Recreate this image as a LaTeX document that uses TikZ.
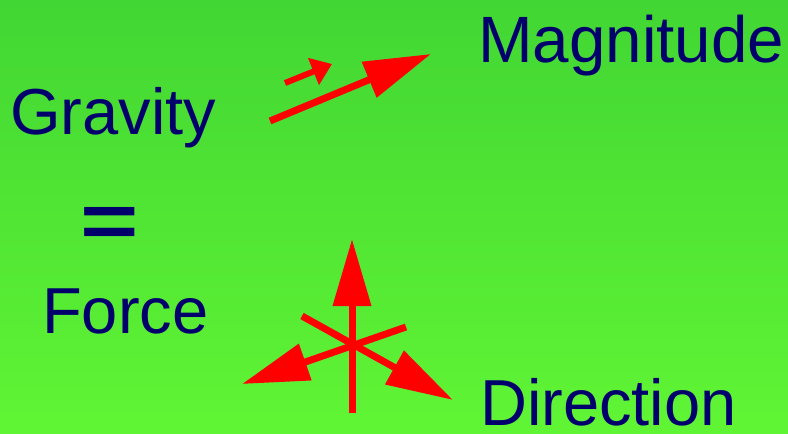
\documentclass[tikz,border=0pt]{standalone}
\usepackage{fontspec}
\setmainfont{Liberation Sans}
\usetikzlibrary{arrows.meta}
\definecolor{bgtop}{RGB}{66,214,52}
\definecolor{bgbot}{RGB}{96,245,52}
\definecolor{txt}{RGB}{0,0,108}
\definecolor{arr}{RGB}{255,0,0}
\begin{document}
\begin{tikzpicture}[x=1pt,y=-1pt,
  lbl/.style={anchor=base west,inner sep=0pt,text=txt},
  bigarrow/.style={draw=arr,line width=7pt,-{Triangle[length=67pt,width=37pt]},color=arr},
  smallarrow/.style={draw=arr,line width=6pt,-{Triangle[length=20pt,width=28pt]},color=arr}]
\useasboundingbox (0,0) rectangle (788,434);
\shade[top color=bgtop,bottom color=bgbot] (0,0) rectangle (788,434);
% labels
\node[lbl,font=\fontsize{65.5}{70}\selectfont] (mag) at (478,62) {Magnitude};
\node[lbl,font=\fontsize{65}{70}\selectfont] (grav) at (10,134) {Gravity};
\node[lbl,font=\fontsize{65}{70}\selectfont] (force) at (42,333) {Force};
\node[lbl,font=\fontsize{65}{70}\selectfont] (dir) at (480,425) {Direction};
\node[anchor=base,inner sep=0pt,text=txt,font=\bfseries\fontsize{100}{100}\selectfont] (eq) at (110,247) {\scalebox{1}[0.77]{=}};
% magnitude arrows
\coordinate (s1) at (285,83);
\coordinate (t1) at (332,64);
\coordinate (s2) at (270,121);
\coordinate (t2) at (431,54);
\draw[smallarrow] (s1) -- (t1);
\draw[bigarrow] (s2) -- (t2);
% direction arrows
\coordinate (vb) at (352,413);
\coordinate (vt) at (352,239);
\coordinate (ls) at (406,327);
\coordinate (lt) at (242,384);
\coordinate (rs) at (302,316);
\coordinate (rt) at (453,400);
\draw[bigarrow] (vb) -- (vt);
\draw[bigarrow] (ls) -- (lt);
\draw[bigarrow] (rs) -- (rt);
\end{tikzpicture}
\end{document}
